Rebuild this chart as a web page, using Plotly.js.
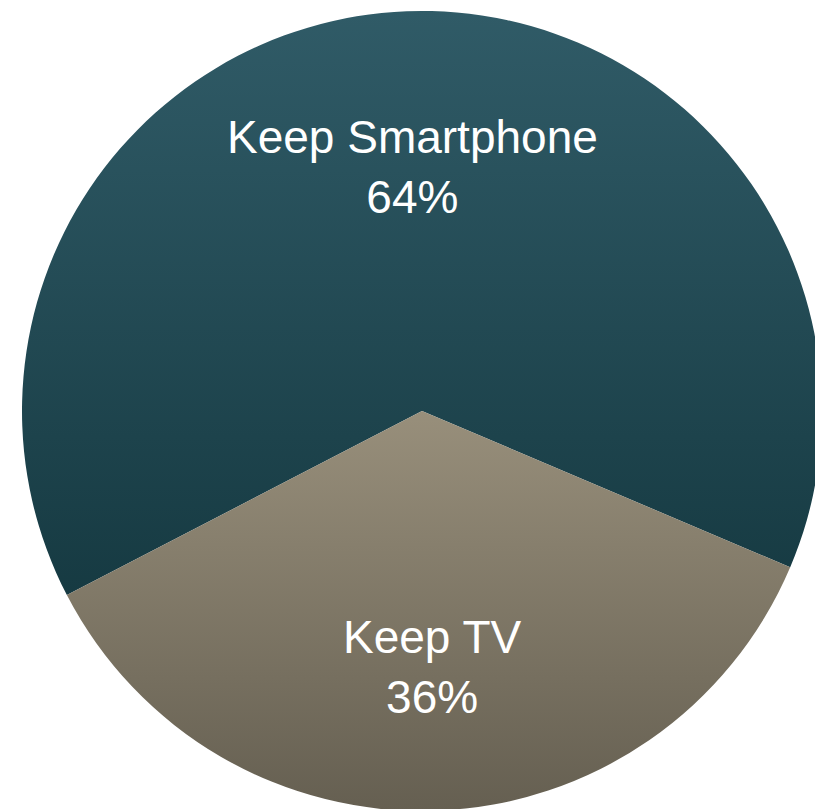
<!DOCTYPE html>
<html>
<head>
<meta charset="utf-8">
<script src="https://cdn.plot.ly/plotly-3.0.1.min.js"></script>
<style>
  html, body { margin: 0; padding: 0; width: 815px; height: 809px; overflow: hidden; background: #ffffff; }
  #chart { position: absolute; left: 22px; top: 11px; width: 800px; height: 800px; }
</style>
</head>
<body>
<div id="chart"></div>
<script>
// ---- data ----
const categories = ["Keep Smartphone", "Keep TV"];
const shares = [64, 36];
const sliceColors = ["#244b55", "#827a69"];
const gradTop = ["#305b67", "#988f7b"];
const gradBottom = ["#163a42", "#655f51"];

const rotationDeg = 242.6;
const labelRadius = [0.61, 0.64]; // fraction of pie radius, per slice

const total = shares.reduce((a, b) => a + b, 0);
const annotations = [];
let start = rotationDeg;
shares.forEach((v, i) => {
  const span = v / total * 360;
  const mid = (start + span / 2) * Math.PI / 180;
  annotations.push({
    xref: "paper", yref: "paper",
    x: 0.5 + labelRadius[i] * Math.sin(mid) / 2,
    y: 0.5 + labelRadius[i] * Math.cos(mid) / 2,
    xanchor: "center", yanchor: "middle",
    text: categories[i] + "<br>" + v + "%",
    showarrow: false,
    font: { family: "Liberation Sans, Arial, sans-serif", size: 46, color: "#ffffff" }
  });
  start += span;
});

const trace = {
  type: "pie",
  labels: categories,
  values: shares,
  sort: false,
  direction: "clockwise",
  rotation: rotationDeg,
  textinfo: "none",
  hoverinfo: "label+percent",
  marker: { colors: sliceColors, line: { width: 0 } },
  domain: { x: [0, 1], y: [0, 1] }
};

const layout = {
  width: 800, height: 800,
  margin: { l: 0, r: 0, t: 0, b: 0 },
  showlegend: false,
  paper_bgcolor: "rgba(0,0,0,0)",
  plot_bgcolor: "rgba(0,0,0,0)",
  annotations: annotations
};

Plotly.newPlot("chart", [trace], layout, { displayModeBar: false, staticPlot: true }).then(gd => {
  const svg = gd.querySelector("svg.main-svg");
  const ns = "http://www.w3.org/2000/svg";
  let defs = svg.querySelector("defs");
  if (!defs) { defs = document.createElementNS(ns, "defs"); svg.insertBefore(defs, svg.firstChild); }
  gradTop.forEach((c, i) => {
    const g = document.createElementNS(ns, "linearGradient");
    g.setAttribute("id", "sliceGrad" + i);
    g.setAttribute("x1", "0"); g.setAttribute("y1", "0");
    g.setAttribute("x2", "0"); g.setAttribute("y2", "1");
    [[0, c], [1, gradBottom[i]]].forEach(([o, col]) => {
      const s = document.createElementNS(ns, "stop");
      s.setAttribute("offset", o);
      s.setAttribute("stop-color", col);
      g.appendChild(s);
    });
    defs.appendChild(g);
  });
  gd.querySelectorAll("g.slice path.surface").forEach((p, i) => {
    p.style.fill = "url(#sliceGrad" + i + ")";
  });
});
</script>
</body>
</html>
